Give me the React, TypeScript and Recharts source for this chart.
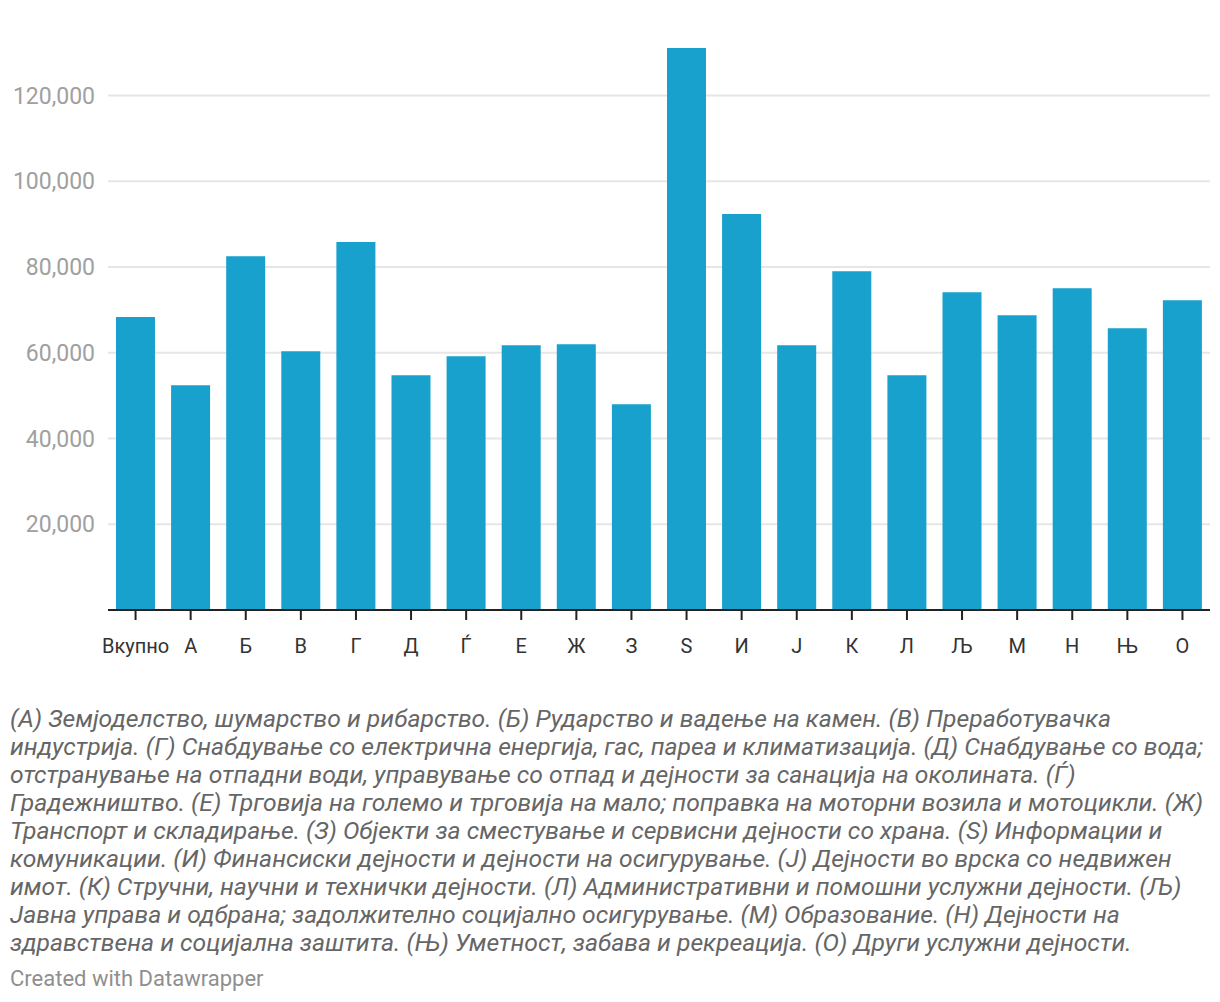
import React from 'react';
import { BarChart, Bar, XAxis, YAxis, CartesianGrid } from 'recharts';

const categories = ['Вкупно', 'А', 'Б', 'В', 'Г', 'Д', 'Ѓ', 'Е', 'Ж', 'З', 'S', 'И', 'Ј', 'К', 'Л', 'Љ', 'М', 'Н', 'Њ', 'О'];
const values = [
   68350, 52400, 82500, 60350, 85800, 54750, 59200, 61750, 61980, 47980,
   131060, 92320, 61750, 79020, 54750, 74120, 68750, 75050, 65720, 72250,
];
const yTicks = [20000, 40000, 60000, 80000, 100000, 120000];

const footnoteLines = [
   '(А) Земјоделство, шумарство и рибарство. (Б) Рударство и вадење на камен. (В) Преработувачка',
   'индустрија. (Г) Снабдување со електрична енергија, гас, пареа и климатизација. (Д) Снабдување со вода;',
   'отстранување на отпадни води, управување со отпад и дејности за санација на околината. (Ѓ)',
   'Градежништво. (Е) Трговија на големо и трговија на мало; поправка на моторни возила и мотоцикли. (Ж)',
   'Транспорт и складирање. (З) Објекти за сместување и сервисни дејности со храна. (S) Информации и',
   'комуникации. (И) Финансиски дејности и дејности на осигурување. (Ј) Дејности во врска со недвижен',
   'имот. (К) Стручни, научни и технички дејности. (Л) Административни и помошни услужни дејности. (Љ)',
   'Јавна управа и одбрана; задолжително социјално осигурување. (М) Образование. (Н) Дејности на',
   'здравствена и социјална заштита. (Њ) Уметност, забава и рекреација. (О) Други услужни дејности.',
];

const chartData = categories.map((name, i) => ({ name, value: values[i] }));

// grid lines only at the labelled ticks (no line at the top of the plot)
const gridLines = ({ yAxis }: any) => {
   const s = yAxis?.scale;
   if (typeof s === 'function') return yTicks.map((t) => s(t));
   if (s && typeof s.map === 'function') return yTicks.map((t) => s.map(t));
   return [];
};

const App = () => {
   return (
      <div
         style={{
            position: 'absolute',
            left: 0,
            top: 0,
            width: 1220,
            height: 1002,
            background: '#fff',
            fontFamily: 'Roboto, sans-serif',
         }}
      >
         <BarChart
            width={1220}
            height={680}
            data={chartData}
            margin={{ top: 48, right: 10, left: 0, bottom: 0 }}
            barCategoryGap="14.5%"
         >
            <CartesianGrid
               horizontal
               vertical={false}
               stroke="#e6e6e6"
               strokeWidth={2}
               horizontalCoordinatesGenerator={gridLines}
            />
            <XAxis
               dataKey="name"
               interval={0}
               height={70}
               tick={{ fontSize: 20, fill: '#333' }}
               tickSize={10}
               tickMargin={19}
               tickLine={{ stroke: '#222', strokeWidth: 2 }}
               axisLine={{ stroke: '#222', strokeWidth: 2 }}
            />
            <YAxis
               width={108}
               domain={[0, 'dataMax']}
               ticks={yTicks}
               tick={{ fontSize: 23, fill: '#a0a0a0' }}
               tickFormatter={(v) => v.toLocaleString('en-US')}
               tickLine={false}
               tickSize={0}
               tickMargin={13}
               axisLine={false}
            />
            <Bar dataKey="value" fill="#18a1cd" isAnimationActive={false} />
         </BarChart>

         <div
            style={{
               position: 'absolute',
               left: 10,
               top: 705,
               fontSize: 24.7,
               lineHeight: '28px',
               fontStyle: 'italic',
               color: '#666',
            }}
         >
            {footnoteLines.map((line) => (
               <div key={line} style={{ whiteSpace: 'nowrap' }}>
                  {line}
               </div>
            ))}
         </div>
         <div
            style={{
               position: 'absolute',
               left: 10,
               top: 966,
               fontSize: 22,
               lineHeight: '26px',
               color: '#8f8f8f',
            }}
         >
            Created with Datawrapper
         </div>
      </div>
   );
};

export default App;
